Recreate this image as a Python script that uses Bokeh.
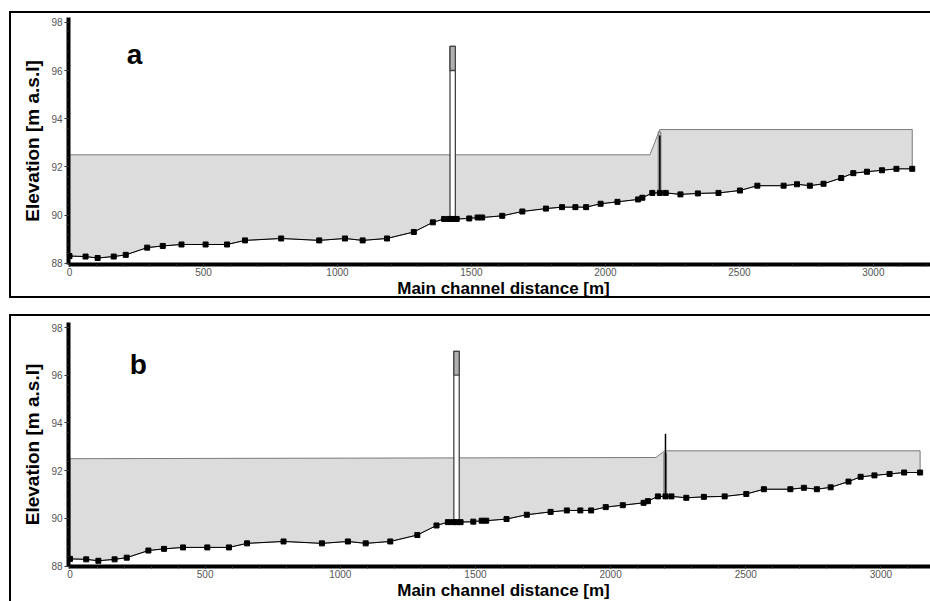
from bokeh.plotting import figure
from bokeh.models import Label, SingleIntervalTicker, Range1d, Title
from bokeh.layouts import column
from bokeh.embed import file_html
from bokeh.resources import INLINE

# ---- data ----
bed_dist = [0, 60, 105, 165, 210, 290, 348, 418, 508, 588,
            655, 790, 932, 1028, 1094, 1185, 1285, 1356, 1398, 1418,
            1430, 1445, 1492, 1523, 1540, 1615, 1690, 1778, 1838, 1888,
            1928, 1982, 2045, 2122, 2138, 2175, 2203, 2225, 2280, 2345,
            2422, 2502, 2567, 2665, 2715, 2763, 2814, 2880, 2925, 2976,
            3032, 3086, 3145]
bed_elev = [88.30, 88.28, 88.22, 88.28, 88.35, 88.65, 88.72, 88.78, 88.78, 88.78,
            88.95, 89.03, 88.95, 89.03, 88.95, 89.03, 89.30, 89.70, 89.84, 89.84,
            89.84, 89.84, 89.86, 89.90, 89.90, 89.97, 90.15, 90.27, 90.33, 90.33,
            90.33, 90.47, 90.55, 90.65, 90.72, 90.92, 90.92, 90.92, 90.86, 90.90,
            90.92, 91.02, 91.22, 91.22, 91.28, 91.22, 91.30, 91.54, 91.74, 91.80,
            91.86, 91.92, 91.92]

wsl_a_dist = [0, 2166, 2203, 3145]
wsl_a_elev = [92.5, 92.5, 93.55, 93.55]
wsl_b_dist = [0, 2168, 2200, 3145]
wsl_b_elev = [92.5, 92.55, 92.83, 92.83]

bridge_left, bridge_right = 1420, 1440
bridge_base, deck_bottom, bridge_top = 89.84, 96.0, 97.0
weir_dist = 2203
weir_base = 90.92
weir_crest_a = 93.3
weir_crest_b = 93.55

x_ticks_interval = 500
y_ticks_interval = 2
FONT = "Liberation Sans"


def make_panel(letter, wsl_d, wsl_e, crest, xr, yr, width, height, mbl, mbt, mbb,
               letter_xy, title_offset):
    p = figure(width=width, height=height, x_range=Range1d(*xr), y_range=Range1d(*yr),
               output_backend="svg", toolbar_location=None,
               min_border_left=mbl, min_border_right=0,
               min_border_top=mbt, min_border_bottom=mbb)
    p.grid.visible = False
    p.outline_line_color = None
    p.background_fill_color = "white"
    p.border_fill_color = "white"

    # water body
    xs = list(wsl_d) + bed_dist[::-1]
    ys = list(wsl_e) + bed_elev[::-1]
    p.patch(xs, ys, fill_color="#dcdcdc", line_color="#7a7a7a", line_width=1)

    # weir
    p.quad(left=[weir_dist - 6], right=[weir_dist + 4], bottom=[weir_base],
           top=[wsl_e[-1] - 0.1], fill_color="#c4c4c4", line_color="#777777", line_width=1)
    p.segment(x0=[weir_dist], y0=[weir_base], x1=[weir_dist], y1=[crest],
              line_color="black", line_width=1.5)

    # bridge
    p.quad(left=[bridge_left], right=[bridge_right], bottom=[bridge_base], top=[bridge_top],
           fill_color="white", line_color="#444444", line_width=1.3)
    p.quad(left=[bridge_left], right=[bridge_right], bottom=[deck_bottom], top=[bridge_top],
           fill_color="#b0b0b0", line_color="#444444", line_width=1.3)

    # bed profile
    p.line(bed_dist, bed_elev, line_color="black", line_width=1)
    p.scatter(bed_dist, bed_elev, marker="square", size=5, fill_color="black", line_color="black")

    # axes
    p.xaxis.ticker = SingleIntervalTicker(interval=x_ticks_interval, num_minor_ticks=5)
    p.yaxis.ticker = SingleIntervalTicker(interval=y_ticks_interval, num_minor_ticks=5)
    for ax in (p.xaxis, p.yaxis):
        ax.axis_line_width = 4
        ax.axis_line_color = "black"
        ax.major_tick_in = 0
        ax.major_tick_out = 4
        ax.minor_tick_in = 0
        ax.minor_tick_out = 2
        ax.major_tick_line_color = "#333333"
        ax.minor_tick_line_color = "#333333"
        ax.major_label_text_font = FONT
        ax.major_label_text_font_size = "10px"
        ax.major_label_text_color = "#555555"
        ax.major_label_standoff = 2
    p.xaxis.major_tick_out = 2
    p.xaxis.major_label_standoff = 1
    p.xaxis.axis_label = "Main channel distance [m]"
    p.xaxis.axis_label_text_font = FONT
    p.xaxis.axis_label_text_font_style = "bold"
    p.xaxis.axis_label_text_font_size = "17px"
    p.xaxis.axis_label_text_color = "black"
    p.xaxis.axis_label_standoff = 0

    ytitle = Title(text="Elevation [m a.s.l]", text_font=FONT, text_font_style="bold",
                   text_font_size="19px", text_color="black", align="center",
                   offset=title_offset, standoff=12)
    p.add_layout(ytitle, "left")

    p.add_layout(Label(x=letter_xy[0], y=letter_xy[1], text=letter, text_font=FONT,
                       text_font_style="bold", text_font_size="28px",
                       text_align="center", text_baseline="middle", text_color="black"))
    return p


pa = make_panel("a", wsl_a_dist, wsl_a_elev, weir_crest_a,
                (-3.7, 3243), (87.95, 98.2), 927, 287, 57, 4, 36, (243, 96.65), 19)
pa.styles = {"border-left": "2px solid black", "border-top": "2px solid black",
             "border-bottom": "2px solid black"}
pa.margin = (11, 0, 0, 9)

pb = make_panel("b", wsl_b_dist, wsl_b_elev, weir_crest_b,
                (-5.5, 3213), (87.98, 98.21), 927, 287, 55, 6, 37, (253, 96.45), 21)
pb.styles = {"border-left": "2px solid black", "border-top": "2px solid black"}
pb.margin = (16, 0, 0, 9)

layout = column(pa, pb, spacing=0, width=930, height=601, styles={"overflow": "hidden"})
open("out.html", "w").write(file_html(layout, INLINE))
